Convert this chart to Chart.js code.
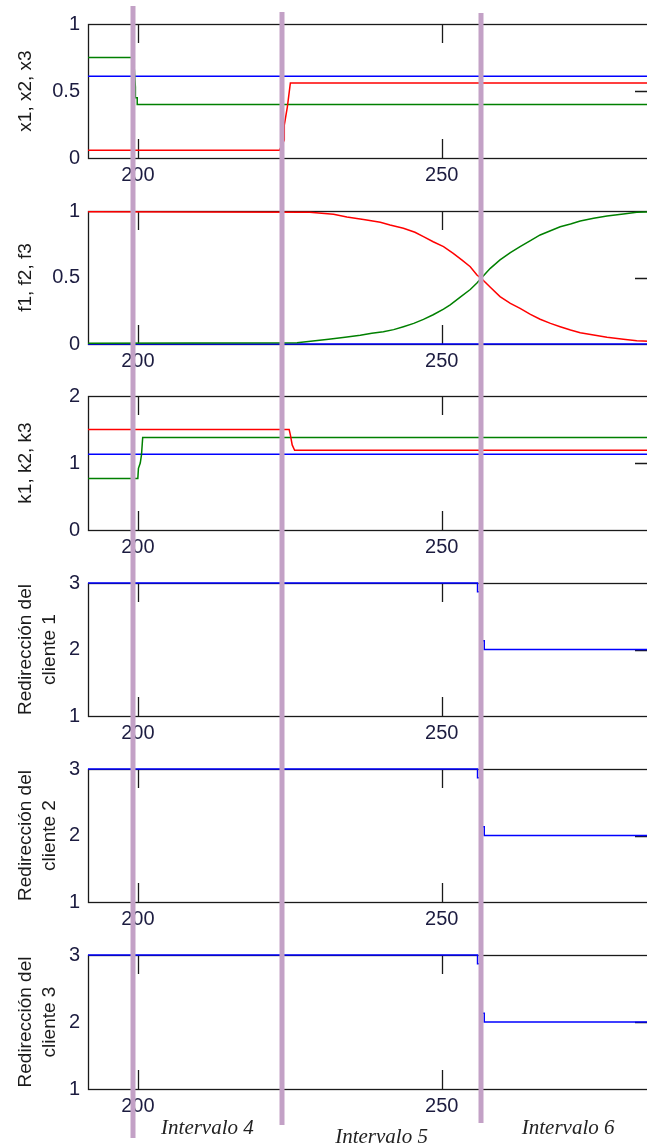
<!DOCTYPE html>
<html>
<head>
<meta charset="utf-8">
<script src="https://cdn.jsdelivr.net/npm/chart.js@4.4.1/dist/chart.umd.min.js"></script>
<style>
  html, body { margin: 0; padding: 0; background: #fff; }
  body { width: 647px; height: 1148px; overflow: hidden; position: relative; }
  canvas.panel { position: absolute; left: 0; }
  #marks { position: absolute; left: 0; top: 0; z-index: 5; }
</style>
</head>
<body>
<canvas id="marks" width="647" height="1148"></canvas>
<script>
// time axis
const xRange = [191.8, 285.1];
const xTicks = [200, 250];
const intervalEdges = [199.2, 223.7, 256.5];
const intervalNames = ["Intervalo 4", "Intervalo 5", "Intervalo 6"];

// x1, x2, x3
const x1T = [191.8, 223.3, 224.1, 224.1, 224.6, 225.1, 285.1];
const x1V = [0.057, 0.057, 0.134, 0.246, 0.38, 0.56, 0.56];
const x2T = [191.8, 199.3, 199.6, 199.6, 199.9, 199.9, 285.1];
const x2V = [0.75, 0.75, 0.53, 0.45, 0.45, 0.40, 0.40];
const x3T = [191.8, 285.1];
const x3V = [0.61, 0.61];

// f1, f2, f3
const f1T = [191.8, 228.3, 232.2, 234.4, 237.4, 239.9, 241.5, 243.7, 245.6, 247, 248.6, 250.3, 251.9, 253.3, 254.7, 255.8, 256.5,
  258, 259.6, 261.3, 262.9, 264.6, 266.2, 267.9, 269.5, 271.2, 272.8, 275, 277.2, 279.9, 282.1, 285.1];
const f1V = [0.995, 0.99, 0.975, 0.955, 0.935, 0.915, 0.895, 0.87, 0.84, 0.807, 0.769, 0.732, 0.682, 0.632, 0.581, 0.519, 0.494,
  0.426, 0.356, 0.306, 0.268, 0.223, 0.186, 0.155, 0.13, 0.105, 0.085, 0.068, 0.05, 0.035, 0.025, 0.018];
const f2T = [191.8, 226.2, 231.4, 234.1, 236.6, 238.5, 240.4, 242.1, 243.7, 245.4, 247, 248.6, 250.3, 251.4, 253, 254.7, 255.8, 256.5,
  258, 259.6, 261.3, 262.9, 264.6, 266.2, 267.9, 269.5, 271.2, 272.8, 275, 277.2, 279.9, 282.1, 285.1];
const f2V = [0.005, 0.01, 0.035, 0.05, 0.065, 0.08, 0.092, 0.108, 0.13, 0.155, 0.185, 0.22, 0.262, 0.295, 0.35, 0.41, 0.458, 0.494,
  0.569, 0.632, 0.687, 0.732, 0.777, 0.82, 0.852, 0.882, 0.902, 0.925, 0.945, 0.962, 0.977, 0.99, 0.995];
const f3T = [191.8, 285.1];
const f3V = [0, 0];

// k1, k2, k3
const k1T = [191.8, 224.9, 225.1, 225.4, 225.8, 285.1];
const k1V = [1.5, 1.5, 1.42, 1.27, 1.19, 1.19];
const k2T = [191.8, 200, 200.1, 200.4, 200.6, 200.8, 285.1];
const k2V = [0.77, 0.77, 0.92, 1.0, 1.12, 1.38, 1.38];
const k3T = [191.8, 285.1];
const k3V = [1.13, 1.13];

// redireccion de los clientes
const c1T = [191.8, 255.9, 255.9, 256.4, 256.4, 257.0, 257.0, 285.1];
const c1V = [3, 3, 2.87, 2.87, 2.13, 2.13, 2, 2];
const c2T = [191.8, 255.9, 255.9, 256.4, 256.4, 257.0, 257.0, 285.1];
const c2V = [3, 3, 2.87, 2.87, 2.13, 2.13, 2, 2];
const c3T = [191.8, 255.9, 255.9, 256.4, 256.4, 257.0, 257.0, 285.1];
const c3V = [3, 3, 2.87, 2.87, 2.13, 2.13, 2, 2];

const RED = "#ff0000", GREEN = "#008000", BLUE = "#0000ff";
const fontFam = "'Liberation Sans', Arial, sans-serif";
const tickColor = "#1c1c40";

const panels = [
  { top: 24, h: 134, title: "x1, x2, x3", yTicks: [0, 0.5, 1], mid: 0.5,
    series: [[x1T, x1V, RED], [x2T, x2V, GREEN], [x3T, x3V, BLUE]] },
  { top: 211, h: 133, title: "f1, f2, f3", yTicks: [0, 0.5, 1], mid: 0.5,
    series: [[f1T, f1V, RED], [f2T, f2V, GREEN], [f3T, f3V, BLUE]] },
  { top: 396, h: 134, title: "k1, k2, k3", yTicks: [0, 1, 2], mid: 1,
    series: [[k1T, k1V, RED], [k2T, k2V, GREEN], [k3T, k3V, BLUE]] },
  { top: 583, h: 133, title: ["Redirección del", "cliente 1"], yTicks: [1, 2, 3], mid: 2,
    series: [[c1T, c1V, BLUE]] },
  { top: 769, h: 133, title: ["Redirección del", "cliente 2"], yTicks: [1, 2, 3], mid: 2,
    series: [[c2T, c2V, BLUE]] },
  { top: 955, h: 134, title: ["Redirección del", "cliente 3"], yTicks: [1, 2, 3], mid: 2,
    series: [[c3T, c3V, BLUE]] },
];

// box round the axes plus the inner ticks
const framePlugin = {
  id: "frame",
  beforeDatasetsDraw(chart, args, opts) {
    const { ctx, chartArea: a, scales } = chart;
    ctx.save();
    ctx.strokeStyle = "#1a1a1a";
    ctx.lineWidth = 1.3;
    ctx.strokeRect(a.left + 0.5, a.top + 0.5, a.right - a.left, a.bottom - a.top);
    ctx.beginPath();
    xTicks.forEach((v) => {
      const px = Math.round(scales.x.getPixelForValue(v)) + 0.5;
      ctx.moveTo(px, a.top);
      ctx.lineTo(px, a.top + 19);
      ctx.moveTo(px, a.bottom);
      ctx.lineTo(px, a.bottom - 19);
    });
    const py = Math.round(scales.y.getPixelForValue(opts.mid)) + 0.5;
    ctx.moveTo(a.right, py);
    ctx.lineTo(a.right - 20, py);
    ctx.stroke();
    ctx.restore();
  },
};

const charts = panels.map((p) => {
  const cv = document.createElement("canvas");
  cv.className = "panel";
  cv.width = 660;
  cv.height = 20 + p.h + 32;
  cv.style.top = p.top - 20 + "px";
  document.body.appendChild(cv);
  return new Chart(cv, {
    type: "scatter",
    data: {
      datasets: p.series.map((s, k) => ({
        data: s[0].map((x, j) => ({ x: x, y: s[1][j] })),
        showLine: true,
        borderColor: s[2],
        borderWidth: 1.5,
        pointRadius: 0,
        tension: 0,
        order: k,
        clip: false,
      })),
    },
    options: {
      responsive: false,
      animation: false,
      devicePixelRatio: 1,
      events: [],
      layout: { padding: { top: 20, right: 5, left: 0, bottom: 0 } },
      plugins: { legend: { display: false }, tooltip: { enabled: false }, frame: { mid: p.mid } },
      scales: {
        x: {
          type: "linear",
          min: xRange[0],
          max: xRange[1],
          afterBuildTicks: (s) => { s.ticks = xTicks.map((v) => ({ value: v })); },
          afterFit: (s) => { s.height = 32; },
          grid: { display: false, drawTicks: false, tickLength: 0 },
          border: { display: false },
          ticks: { padding: 5, color: tickColor, font: { family: fontFam, size: 20 }, callback: (v) => String(v) },
        },
        y: {
          type: "linear",
          min: p.yTicks[0],
          max: p.yTicks[p.yTicks.length - 1],
          afterBuildTicks: (s) => { s.ticks = p.yTicks.map((v) => ({ value: v })); },
          afterFit: (s) => { s.width = 88; },
          grid: { display: false, drawTicks: false, tickLength: 0 },
          border: { display: false },
          ticks: { padding: 8, color: tickColor, font: { family: fontFam, size: 20 }, callback: (v) => String(v) },
          title: {
            display: true,
            text: p.title,
            color: "#1a1a1a",
            font: { family: fontFam, size: 19, lineHeight: 1.25 },
            padding: { top: 14, bottom: 0 },
          },
        },
      },
    },
    plugins: [framePlugin],
  });
});

// interval markers, placed with the time scale of the first panel
const marks = document.getElementById("marks");
const mctx = marks.getContext("2d");
const xs = charts[0].scales.x;
const lineSpans = [[6, 1138], [12, 1125], [13, 1123]];
mctx.strokeStyle = "#c3a1c6";
mctx.lineWidth = 5;
intervalEdges.forEach((v, i) => {
  const px = Math.round(xs.getPixelForValue(v));
  mctx.beginPath();
  mctx.moveTo(px, lineSpans[i][0]);
  mctx.lineTo(px, lineSpans[i][1]);
  mctx.stroke();
});
const labelY = [1128, 1137, 1128];
mctx.fillStyle = "#222";
mctx.font = "italic 21px 'Liberation Serif', 'Times New Roman', serif";
mctx.textAlign = "center";
mctx.textBaseline = "middle";
intervalNames.forEach((name, i) => {
  const a = intervalEdges[i];
  const b = i + 1 < intervalEdges.length ? intervalEdges[i + 1] : xRange[1];
  const cx = (xs.getPixelForValue(a) + xs.getPixelForValue(b)) / 2;
  mctx.fillText(name, cx, labelY[i]);
});
</script>
</body>
</html>
